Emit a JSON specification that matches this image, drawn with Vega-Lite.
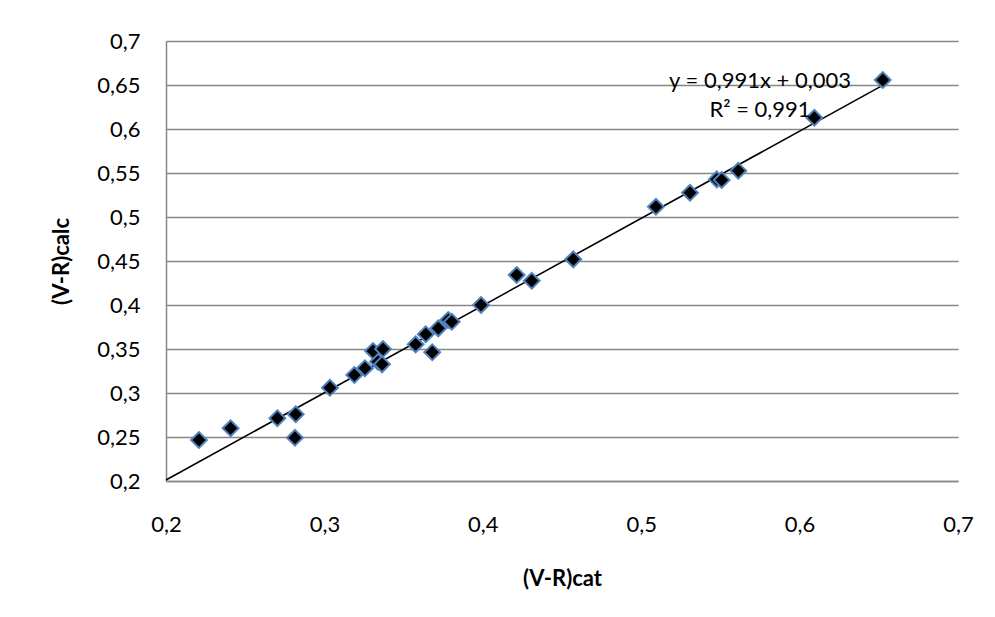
{
  "$schema": "https://vega.github.io/schema/vega-lite/v6.json",
  "width": 792,
  "height": 440,
  "autosize": {"type": "none"},
  "padding": {"left": 166, "top": 41, "right": 37, "bottom": 136},
  "background": "white",
  "config": {
    "view": {"stroke": null},
    "font": "Lato",
    "axis": {
      "labelFont": "Lato",
      "labelFontSize": 22,
      "labelColor": "#000000",
      "labelFlush": false,
      "labelOverlap": false,
      "titleFont": "Lato",
      "titleFontSize": 22,
      "titleFontWeight": "bold",
      "titleColor": "#000000",
      "domainColor": "#868686",
      "domainWidth": 1.5,
      "gridColor": "#868686",
      "gridWidth": 1.5,
      "ticks": false,
      "tickSize": 0
    }
  },
  "layer": [
    {
      "data": {"values": [
        {"cat": 0.2, "calc": 0.2012},
        {"cat": 0.653, "calc": 0.6501}
      ]},
      "mark": {"type": "line", "color": "#000000", "strokeWidth": 1.6},
      "encoding": {
        "x": {
          "field": "cat", "type": "quantitative",
          "scale": {"domain": [0.2, 0.7], "nice": false, "zero": false},
          "axis": {
            "title": "(V-R)cat",
            "grid": false,
            "values": [0.2, 0.3, 0.4, 0.5, 0.6, 0.7],
            "labelExpr": "replace(format(datum.value, '.2~f'), '.', ',')",
            "labelBaseline": "middle",
            "labelPadding": 43,
            "titleBaseline": "middle",
            "titleY": 97
          }
        },
        "y": {
          "field": "calc", "type": "quantitative",
          "scale": {"domain": [0.2, 0.7], "nice": false, "zero": false},
          "axis": {
            "title": "(V-R)calc",
            "grid": true,
            "values": [0.2, 0.25, 0.3, 0.35, 0.4, 0.45, 0.5, 0.55, 0.6, 0.65, 0.7],
            "labelExpr": "replace(format(datum.value, '.2~f'), '.', ',')",
            "labelPadding": 26,
            "titleBaseline": "middle",
            "titleX": -105,
            "titleY": 220
          }
        }
      }
    },
    {
      "data": {"values": [
        {"cat": 0.2208, "calc": 0.2466},
        {"cat": 0.2408, "calc": 0.2599},
        {"cat": 0.2703, "calc": 0.2713},
        {"cat": 0.2819, "calc": 0.2758},
        {"cat": 0.2814, "calc": 0.2492},
        {"cat": 0.3035, "calc": 0.3060},
        {"cat": 0.3189, "calc": 0.3205},
        {"cat": 0.3256, "calc": 0.3281},
        {"cat": 0.3338, "calc": 0.3356},
        {"cat": 0.3364, "calc": 0.3326},
        {"cat": 0.3307, "calc": 0.3477},
        {"cat": 0.3370, "calc": 0.3500},
        {"cat": 0.3576, "calc": 0.3553},
        {"cat": 0.3640, "calc": 0.3667},
        {"cat": 0.3681, "calc": 0.3463},
        {"cat": 0.3719, "calc": 0.3735},
        {"cat": 0.3782, "calc": 0.3830},
        {"cat": 0.3804, "calc": 0.3810},
        {"cat": 0.3989, "calc": 0.4000},
        {"cat": 0.4214, "calc": 0.4341},
        {"cat": 0.4309, "calc": 0.4276},
        {"cat": 0.4571, "calc": 0.4519},
        {"cat": 0.5093, "calc": 0.5117},
        {"cat": 0.5308, "calc": 0.5276},
        {"cat": 0.5477, "calc": 0.5428},
        {"cat": 0.5508, "calc": 0.5420},
        {"cat": 0.5613, "calc": 0.5526},
        {"cat": 0.6093, "calc": 0.6128},
        {"cat": 0.6525, "calc": 0.6557}
      ]},
      "mark": {"type": "point", "shape": "diamond", "filled": true, "fill": "#000000", "stroke": "#4f81bd", "strokeWidth": 2, "size": 250, "opacity": 1},
      "encoding": {
        "x": {"field": "cat", "type": "quantitative"},
        "y": {"field": "calc", "type": "quantitative"}
      }
    },
    {
      "data": {"values": [
        {"cat": 0.575, "calc": 0.6545, "label": "y = 0,991x + 0,003"},
        {"cat": 0.575, "calc": 0.6216, "label": "R² = 0,991"}
      ]},
      "mark": {"type": "text", "font": "Lato", "fontSize": 22, "color": "#000000", "align": "center", "baseline": "middle"},
      "encoding": {
        "x": {"field": "cat", "type": "quantitative"},
        "y": {"field": "calc", "type": "quantitative"},
        "text": {"field": "label"}
      }
    }
  ]
}
